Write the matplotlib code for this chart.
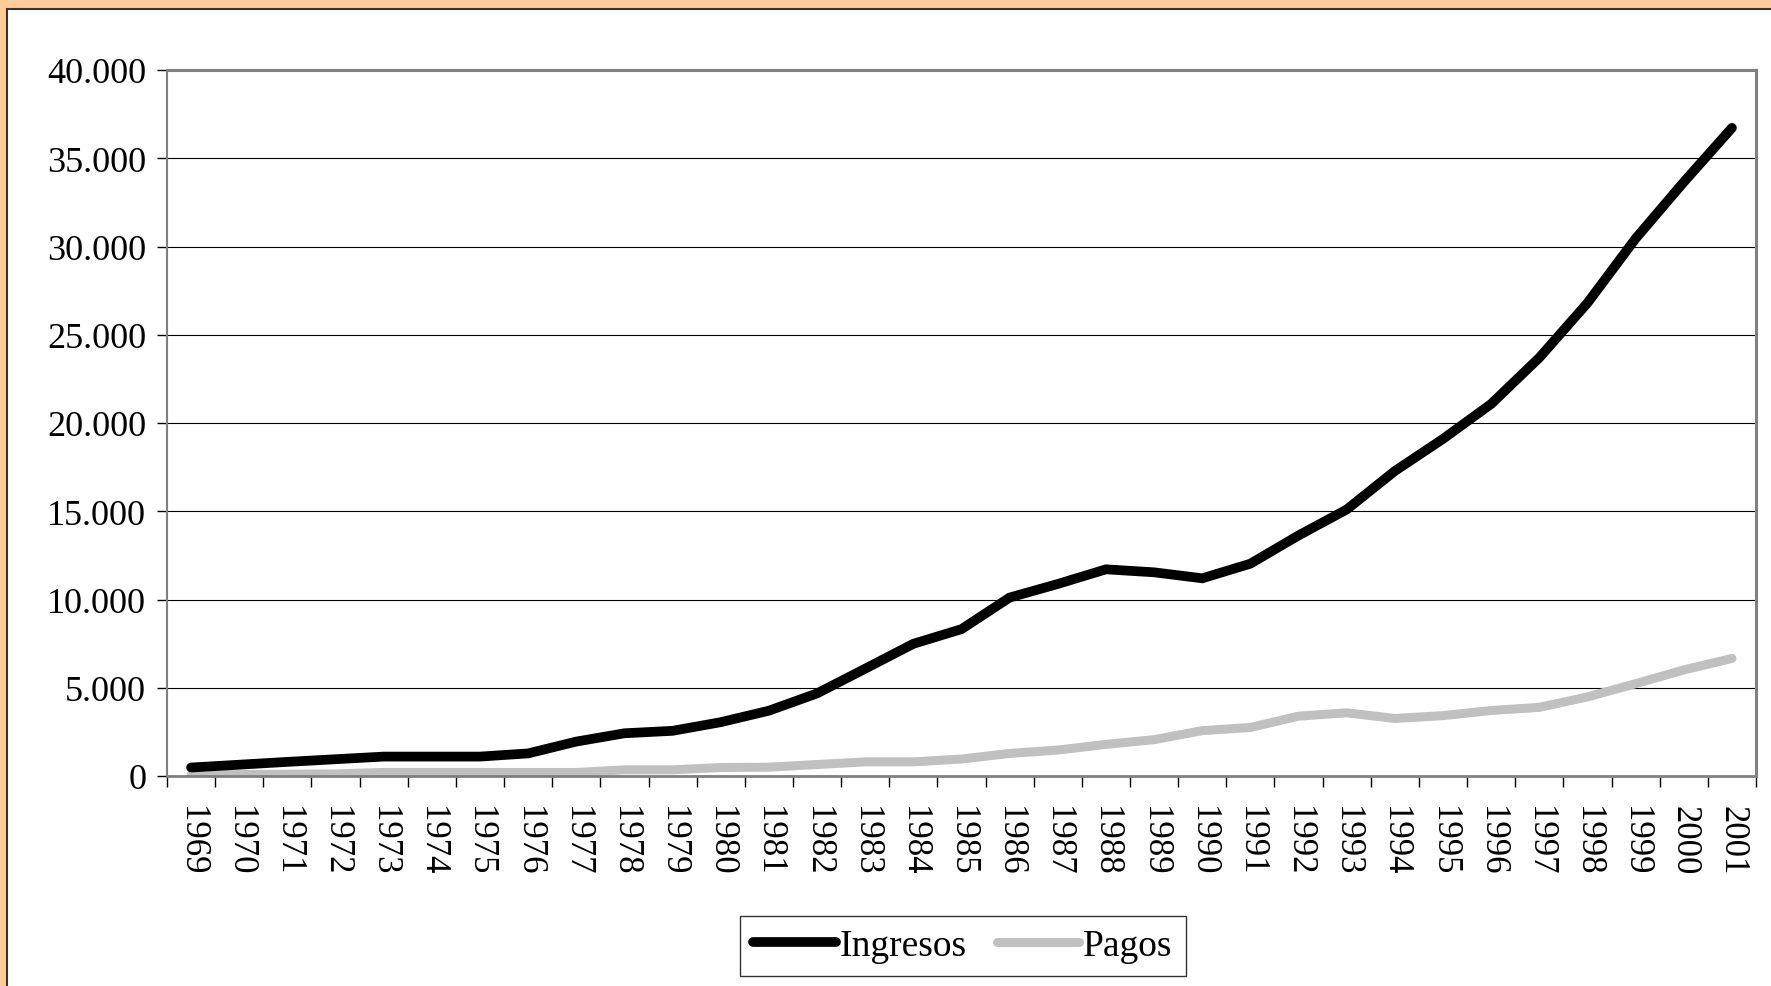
import matplotlib.pyplot as plt
import matplotlib.patches as mpatches
from matplotlib.ticker import FuncFormatter, MultipleLocator
import numpy as np

# Datos
anios = [str(a) for a in range(1969, 2002)]
ingresos = [480, 640, 800, 950, 1100, 1100, 1100, 1280, 1950, 2420, 2560,
            3050, 3700, 4680, 6080, 7490, 8320, 10110, 10880, 11710, 11540,
            11200, 12030, 13630, 15100, 17280, 19100, 21080, 23700, 26800,
            30450, 33650, 36720]
pagos = [60, 80, 100, 120, 200, 200, 200, 200, 200, 350, 350,
         480, 500, 650, 800, 800, 960, 1280, 1470, 1790, 2060,
         2570, 2750, 3390, 3580, 3260, 3420, 3710, 3890, 4480,
         5230, 6010, 6660]

plt.rcParams['font.family'] = ['Liberation Serif', 'DejaVu Serif']

fig = plt.figure(figsize=(17.71, 9.87), dpi=100)
fig.patch.set_facecolor('#FFCC99')
# fondo blanco con borde oscuro
fondo = mpatches.Rectangle((7 / 1771, -0.1), 1.2, (987 - 10) / 987 + 0.1,
                           transform=fig.transFigure, facecolor='white',
                           edgecolor='#333333', linewidth=1.5, zorder=-10)
fig.patches.append(fondo)

ax = fig.add_axes([167 / 1771, (987 - 777) / 987,
                   (1756 - 167) / 1771, (777 - 71) / 987])
ax.set_facecolor('white')

x = np.arange(len(anios))
ax.plot(x, ingresos, color='black', linewidth=7, label='Ingresos',
        solid_capstyle='round', solid_joinstyle='miter', zorder=3)
ax.plot(x, pagos, color='#C0C0C0', linewidth=6.5, label='Pagos',
        solid_capstyle='round', solid_joinstyle='miter', zorder=2)

ax.set_xlim(-0.5, len(anios) - 0.5)
ax.set_ylim(0, 40000)

# eje Y
ax.yaxis.set_major_locator(MultipleLocator(5000))
ax.yaxis.set_major_formatter(FuncFormatter(
    lambda v, p: '0' if v == 0 else f'{int(v):,}'.replace(',', '.')))
ax.tick_params(axis='y', direction='out', length=7, width=1, pad=8,
               labelsize=26, colors='black')
ax.grid(axis='y', color='black', linewidth=0.8)
ax.set_axisbelow(True)

# eje X: etiquetas en el centro, marcas entre categorías
ax.set_xticks(x)
ax.set_xticklabels(anios, rotation=270, fontsize=25)
ax.tick_params(axis='x', which='major', length=0, pad=21)
ax.set_xticks(np.arange(-0.5, len(anios), 1), minor=True)
ax.tick_params(axis='x', which='minor', direction='out', length=8,
               width=1, color='black')

for lado in ['top', 'right']:
    ax.spines[lado].set_color('#808080')
    ax.spines[lado].set_linewidth(2.2)
ax.spines['left'].set_color('#808080')
ax.spines['left'].set_linewidth(1.5)
ax.spines['bottom'].set_color('#808080')
ax.spines['bottom'].set_linewidth(2)

leg = fig.legend(loc='center', bbox_to_anchor=(963 / 1771, (987 - 947) / 987),
                 ncol=2, fontsize=27, frameon=True, fancybox=False,
                 edgecolor='black', handlelength=2.2, handletextpad=0.1,
                 columnspacing=0.8, borderpad=0.35)
leg.get_frame().set_linewidth(1)

fig.savefig('out.png', dpi=100, facecolor=fig.get_facecolor())
